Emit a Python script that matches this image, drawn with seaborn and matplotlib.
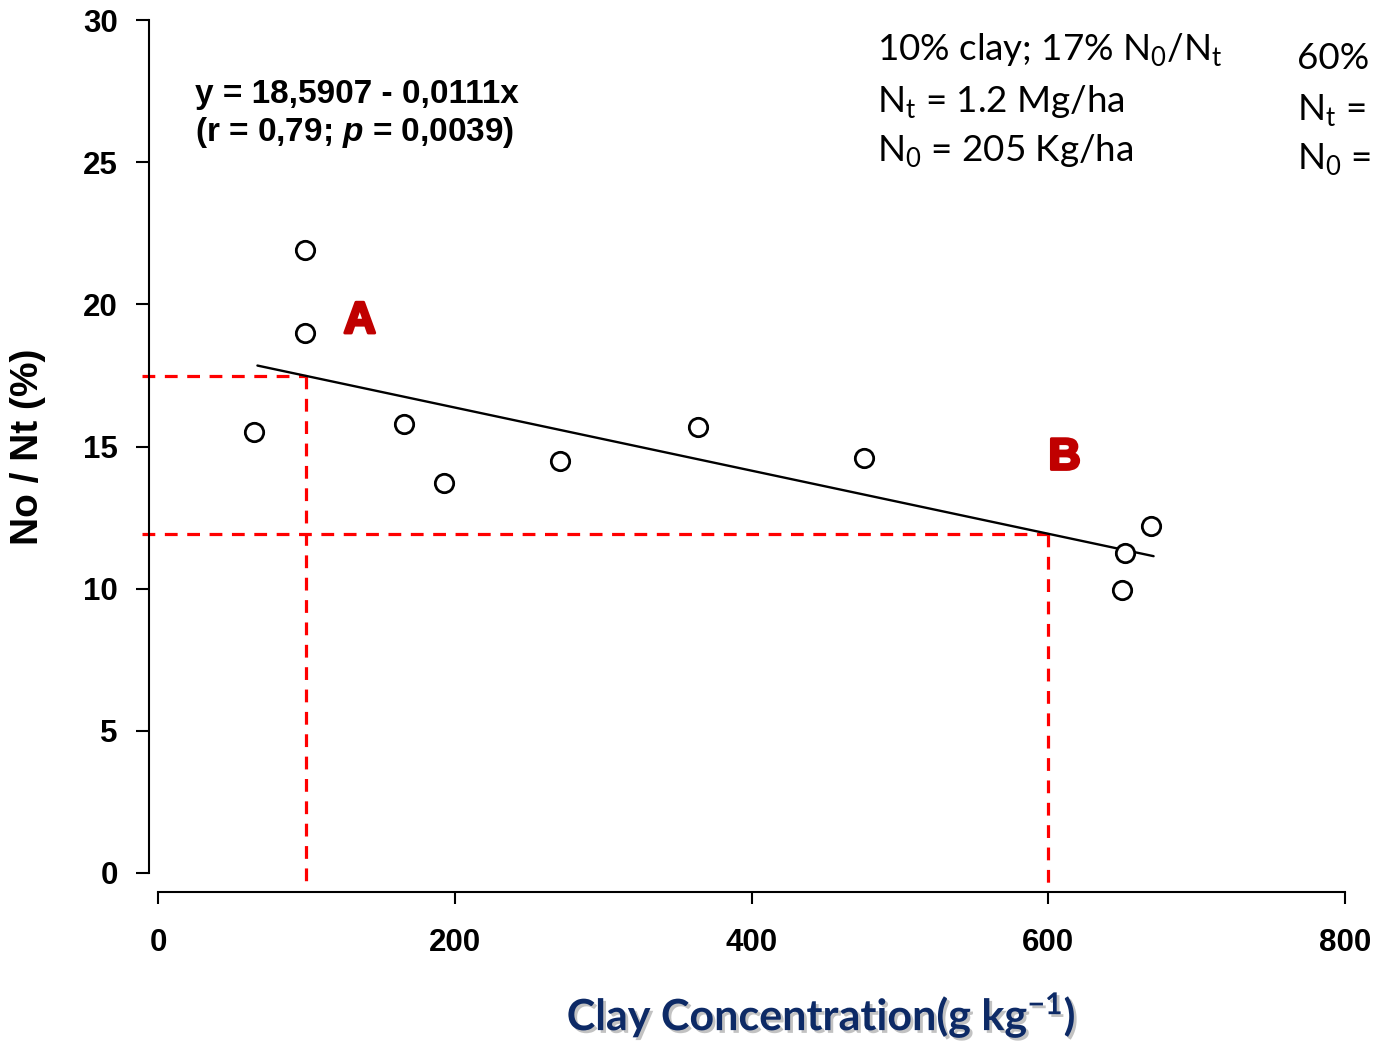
import numpy as np
import pandas as pd
import matplotlib
matplotlib.use("Agg")
import matplotlib.pyplot as plt
import matplotlib.patheffects as pe
import seaborn as sns

# Observed samples: clay concentration (g/kg) vs No/Nt ratio (%)
clay = [65, 99, 99, 166, 193, 271, 364, 476, 650, 652, 669]
no_nt = [15.5, 21.9, 19.0, 15.8, 13.7, 14.5, 15.7, 14.6, 9.95, 11.25, 12.2]

# Fitted regression  y = a + b x
intercept = 18.5907
slope = -0.0111
fit_range = [67, 671]

# Reference clay contents highlighted with dashed guides
guide_clay = [100, 600]

x_ticks = [0, 200, 400, 600, 800]
y_ticks = [0, 5, 10, 15, 20, 25, 30]

sns.set_style("ticks")
plt.rcParams["font.family"] = ["Liberation Sans", "DejaVu Sans"]
plt.rcParams["text.color"] = "black"
plt.rcParams["axes.labelcolor"] = "black"
plt.rcParams["mathtext.fontset"] = "custom"
plt.rcParams["mathtext.it"] = "Liberation Sans:italic:bold"
plt.rcParams["mathtext.rm"] = "Liberation Sans:bold"

fig = plt.figure(figsize=(13.77, 10.41), dpi=100)
ax = fig.add_axes([158 / 1377, 1 - 873 / 1041, 1187 / 1377, 853 / 1041])

df = pd.DataFrame({"clay": clay, "ratio": no_nt})
sns.scatterplot(data=df, x="clay", y="ratio", ax=ax, s=175, marker="o",
                facecolor="white", edgecolor="black", linewidth=2.0, zorder=4,
                clip_on=False)

fit_x = np.array(fit_range, dtype=float)
fit_df = pd.DataFrame({"clay": fit_x, "ratio": intercept + slope * fit_x})
sns.lineplot(data=fit_df, x="clay", y="ratio", ax=ax, color="black",
             linewidth=1.7, zorder=3)

# Dashed guides from the fitted line to the axes
red = "#FF0000"
for gx in guide_clay:
    gy = intercept + slope * gx
    ax.plot([-11, gx], [gy, gy], color=red, lw=2.3, dashes=(4, 3),
            clip_on=False, zorder=2)
    ax.plot([gx, gx], [gy, -0.42], color=red, lw=2.3, dashes=(4, 3),
            clip_on=False, zorder=2)

ax.set_xlim(0, 800)
ax.set_ylim(0, 30)
ax.set_xticks(x_ticks)
ax.set_yticks(y_ticks)
sns.despine(ax=ax, offset={"left": 6.5, "bottom": 13.7})
for sp in ("left", "bottom"):
    ax.spines[sp].set_linewidth(1.5)
    ax.spines[sp].set_color("black")
ax.tick_params(axis="y", length=9.4, width=1.5, pad=13, labelsize=22.5,
               colors="black")
ax.tick_params(axis="x", length=8.6, width=1.5, pad=17, labelsize=22.5,
               colors="black")
for lab in ax.get_xticklabels() + ax.get_yticklabels():
    lab.set_fontweight("bold")

ax.set_xlabel("")
ax.set_ylabel("No / Nt (%)", fontsize=28, fontweight="bold", labelpad=0,
              color="black")
ax.yaxis.set_label_coords(-112 / 1187, 0.5)

# Regression equation
ax.text(25, 27.38, "y = 18,5907 - 0,0111x", fontsize=24, fontweight="bold",
        ha="left", va="center", color="black")
ax.text(25, 26.05, "(r = 0,79; $\\mathit{p}$ = 0,0039)", fontsize=24,
        fontweight="bold", ha="left", va="center", color="black")

# Point labels
heavy = [pe.withStroke(linewidth=2.2, foreground="#C00000")]
ax.text(136, 19.4, "A", fontsize=32, fontweight="bold", color="#C00000",
        ha="center", va="center", path_effects=heavy)
ax.text(611, 14.6, "B", fontsize=32, fontweight="bold", color="#C00000",
        ha="center", va="center", path_effects=heavy)

# Soil summaries
info_font = dict(fontsize=26.5, family="Lato", ha="left", va="center",
                 color="black", clip_on=False)
sub = lambda s: "$_\\mathregular{" + s + "}$"
ax.text(484.5, 28.97, "10% clay; 17% N" + sub("0") + "/N" + sub("t"), **info_font)
ax.text(484.5, 27.15, "N" + sub("t") + " = 1.2 Mg/ha", **info_font)
ax.text(484.5, 25.4, "N" + sub("0") + " = 205 Kg/ha", **info_font)
ax.text(767.5, 28.65, "60%", **info_font)
ax.text(767.5, 26.85, "N" + sub("t") + " =", **info_font)
ax.text(767.5, 25.1, "N" + sub("0") + " =", **info_font)

# Axis title with soft shadow
fig.text(821 / 1377, 1 - 1015 / 1041,
         "Clay Concentration(g kg$^{\\mathregular{-1}}$)",
         fontsize=31, family="Lato", fontweight="bold", color="#0D2A66",
         ha="center", va="center",
         path_effects=[pe.SimplePatchShadow(offset=(2, -2), shadow_rgbFace="#9A9A9A",
                                            alpha=0.6),
                       pe.Normal()])

fig.savefig("out.png", dpi=100)
